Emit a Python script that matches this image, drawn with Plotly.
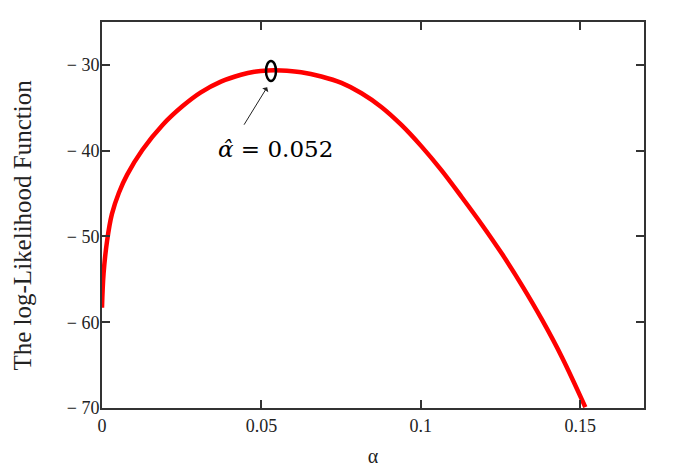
"""Log-likelihood curve for alpha, Mathcad-style frame."""
import plotly.graph_objects as go

# values
alpha = [0.0, 0.0005, 0.0016, 0.0031, 0.0053, 0.0079, 0.0127, 0.019, 0.0253, 0.031,
         0.0373, 0.0436, 0.0478, 0.052, 0.0562, 0.0625, 0.0688, 0.0751, 0.0814, 0.0876,
         0.0939, 0.1002, 0.1065, 0.1128, 0.1191, 0.1254, 0.1317, 0.138, 0.1443, 0.1516]
log_lik = [-58.3, -54.3, -50.5, -47.4, -44.9, -42.8, -39.9, -37.0, -34.8, -33.2,
           -31.95, -31.15, -30.8, -30.65, -30.65, -30.85, -31.35, -32.1, -33.3, -34.9,
           -37.0, -39.5, -42.3, -45.4, -48.6, -52.0, -55.7, -59.7, -64.1, -69.9]

x_ticks = [0, 0.05, 0.1, 0.15]
x_tick_text = ["0", "0.05", "0.1", "0.15"]
y_ticks = [-30, -40, -50, -60, -70]
y_tick_text = ["\u2212\u00a030", "\u2212\u00a040", "\u2212\u00a050", "\u2212\u00a060", "\u2212\u00a070"]

ALPHA_HAT = 0.053
LL_HAT = -30.7
HAT_LABEL = "<i>\u03b1\u0302</i> = 0.052"
Y_TITLE = "The log-Likelihood Function"

SERIF = "Liberation Serif, Times New Roman, serif"
AXIS_COLOR = "#333333"

fig = go.Figure()
fig.add_trace(go.Scatter(
    x=alpha, y=log_lik,
    mode="lines",
    line=dict(color="#ff0000", width=4.5, shape="spline", smoothing=1.0),
    hoverinfo="skip",
    showlegend=False,
))

# the small ellipse round the maximum
fig.add_shape(
    type="circle", xref="x", yref="y",
    xsizemode="pixel", ysizemode="pixel",
    xanchor=ALPHA_HAT, yanchor=LL_HAT,
    x0=-5, x1=5, y0=-10, y1=10,
    line=dict(color="black", width=2.5),
)

# arrow and label
fig.add_annotation(
    x=ALPHA_HAT - 0.0012, y=-32.6, xref="x", yref="y",
    ax=-24, ay=39, axref="pixel", ayref="pixel",
    text="", showarrow=True,
    arrowhead=1, arrowsize=1.2, arrowwidth=1, arrowcolor="#222222",
)
fig.add_annotation(
    x=0.0543, y=-39.8, xref="x", yref="y",
    text=HAT_LABEL, showarrow=False,
    font=dict(family="DejaVu Serif", size=23, color="black"),
)

# y title placed as a rotated annotation
fig.add_annotation(
    x=-0.146, y=0.475, xref="paper", yref="paper",
    text=Y_TITLE, textangle=-90, showarrow=False,
    xanchor="center", yanchor="middle",
    font=dict(family=SERIF, size=25, color="#222222"),
)

axis_common = dict(
    showline=True, linecolor=AXIS_COLOR, linewidth=2, mirror="ticks",
    ticks="inside", ticklen=8, tickwidth=2, tickcolor=AXIS_COLOR,
    showgrid=False, zeroline=False,
    tickfont=dict(family=SERIF, size=18, color="#222222"),
)

fig.update_layout(
    width=678, height=472,
    margin=dict(l=94, r=42, t=14, b=72),
    paper_bgcolor="white", plot_bgcolor="white",
    xaxis=dict(
        **axis_common,
        range=[0, 0.17], tickvals=x_ticks, ticktext=x_tick_text,
        title=dict(text="\u03b1", font=dict(family=SERIF, size=20, color="#222222"), standoff=14),
    ),
    yaxis=dict(
        **axis_common,
        range=[-70, -25], tickvals=y_ticks, ticktext=y_tick_text,
        ticklabelstandoff=-3,
    ),
)

fig.write_html("out.html")
